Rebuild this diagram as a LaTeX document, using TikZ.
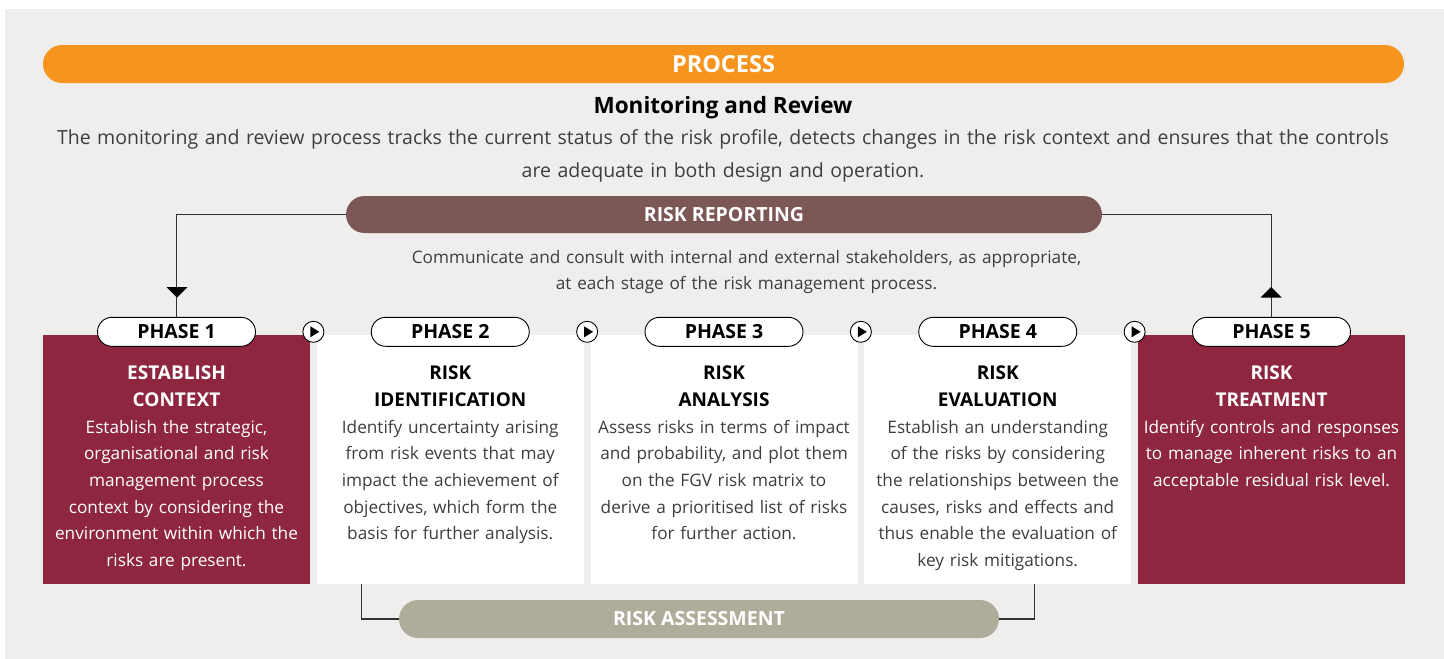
\documentclass[tikz,border=0pt]{standalone}
\usepackage{fontspec}
\setmainfont{Open Sans}
\usetikzlibrary{positioning,calc}
\definecolor{BgClr}{RGB}{239,238,236}
\definecolor{OrangeClr}{RGB}{247,148,30}
\definecolor{ReportClr}{RGB}{123,88,85}
\definecolor{PhaseClr}{RGB}{142,38,64}
\definecolor{AssessClr}{RGB}{176,172,155}
\definecolor{TextClr}{RGB}{62,62,62}
\definecolor{LinkClr}{RGB}{50,50,50}
\newcommand{\phasetitlefont}{\bfseries\fontsize{19}{26.7}\selectfont}

\tikzset{
  bar/.style={rounded corners=18.5pt,minimum height=37pt,inner sep=0pt,text=white,font=\bfseries\fontsize{19.5}{22}\selectfont},
  pill/.style={draw=black,line width=0.9pt,fill=white,rounded corners=14.5pt,minimum width=158pt,minimum height=29pt,inner sep=0pt,font=\bfseries\fontsize{19.5}{22}\selectfont},
  phasebox/.style={minimum width=267pt,minimum height=249pt,inner sep=0pt},
  phasetext/.style={anchor=north,text width=264pt,align=center,inner sep=0pt,font=\fontsize{17.2}{26.7}\selectfont},
  playbtn/.style={circle,draw=black,line width=0.9pt,fill=white,minimum size=21pt,inner sep=0pt},
  link/.style={draw=LinkClr,line width=1.2pt},
}

\begin{document}
\begin{tikzpicture}[x=1pt,y=-1pt]
\useasboundingbox (0,0) rectangle (1444,659);
\fill[white] (0,0) rectangle (1444,659);
\fill[BgClr] (5,9) rectangle (1444,659);

% process header
\node[bar,fill=OrangeClr,minimum width=1361pt,minimum height=38pt,rounded corners=19pt,font=\bfseries\fontsize{23.5}{26}\selectfont] (process) at (723.5,64) {PROCESS};
\node[font=\bfseries\fontsize{22.5}{26}\selectfont] (monitor) at (723,108) {Monitoring and Review};
\node[text=TextClr,text width=1420pt,align=center,inner sep=0pt,font=\fontsize{19.5}{33}\selectfont] (monitortext) at (723,156)
  {The monitoring and review process tracks the current status of the risk profile, detects changes in the risk context and ensures that the controls\\are adequate in both design and operation.};

% risk reporting
\node[bar,fill=ReportClr,minimum width=756pt] (report) at (724,214.5) {RISK REPORTING};
\node[text=TextClr,text width=800pt,align=center,inner sep=0pt,font=\fontsize{17.2}{26}\selectfont] (reporttext) at (746.5,272)
  {Communicate and consult with internal and external stakeholders, as appropriate,\\at each stage of the risk management process.};

% phase boxes
\node[phasebox,fill=PhaseClr] (box1) at (176.5,459.5) {};
\node[phasebox,fill=white] (box2) at (450.25,459.5) {};
\node[phasebox,fill=white] (box3) at (724,459.5) {};
\node[phasebox,fill=white] (box4) at (997.75,459.5) {};
\node[phasebox,fill=PhaseClr] (box5) at (1271.5,459.5) {};

\foreach \i in {1,...,5}
  \node[pill] (pill\i) at ([yshift=3pt]box\i.north) {PHASE \i};

\foreach \i/\j in {1/2,2/3,3/4,4/5}{
  \node[playbtn] (play\i) at ($(pill\i.center)!0.5!(pill\j.center)$) {};
  \fill ([shift={(-3,-5.5)}]play\i.center) -- ++(9,5.5) -- ++(-9,5.5) -- cycle;
}

\node[phasetext,text=white] (text1) at ([yshift=-31pt]box1.north)
  {{\phasetitlefont ESTABLISH\\CONTEXT}\\Establish the strategic,\\organisational and risk\\management process\\context by considering the\\environment within which the\\risks are present.};
\node[phasetext,text=TextClr] (text2) at ([yshift=-31pt]box2.north)
  {{\color{black}\phasetitlefont RISK\\IDENTIFICATION}\\Identify uncertainty arising\\from risk events that may\\impact the achievement of\\objectives, which form the\\basis for further analysis.};
\node[phasetext,text=TextClr] (text3) at ([yshift=-31pt]box3.north)
  {{\color{black}\phasetitlefont RISK\\ANALYSIS}\\Assess risks in terms of impact\\and probability, and plot them\\on the FGV risk matrix to\\derive a prioritised list of risks\\for further action.};
\node[phasetext,text=TextClr] (text4) at ([yshift=-31pt]box4.north)
  {{\color{black}\phasetitlefont RISK\\EVALUATION}\\Establish an understanding\\of the risks by considering\\the relationships between the\\causes, risks and effects and\\thus enable the evaluation of\\key risk mitigations.};
\node[phasetext,text=white] (text5) at ([yshift=-31pt]box5.north)
  {{\phasetitlefont RISK\\TREATMENT}\\Identify controls and responses\\to manage inherent risks to an\\acceptable residual risk level.};

% reporting links
\draw[link] (report.west) -| (pill1.north);
\draw[link] (report.east) -| (pill5.north);
\fill (166.5,287) -- (187.5,287) -- (177,297.5) -- cycle;
\fill (1260.5,297.5) -- (1281.5,297.5) -- (1271,287) -- cycle;

% risk assessment
\node[bar,fill=AssessClr,minimum width=600pt,minimum height=38pt,rounded corners=19pt] (assess) at (699,619) {RISK ASSESSMENT};
\coordinate (assessL) at ([xshift=45pt]box2.south west);
\coordinate (assessR) at ([xshift=-97pt]box4.south east);
\draw[link] (assess.west) -| (assessL);
\draw[link] (assess.east) -| (assessR);
\end{tikzpicture}
\end{document}
